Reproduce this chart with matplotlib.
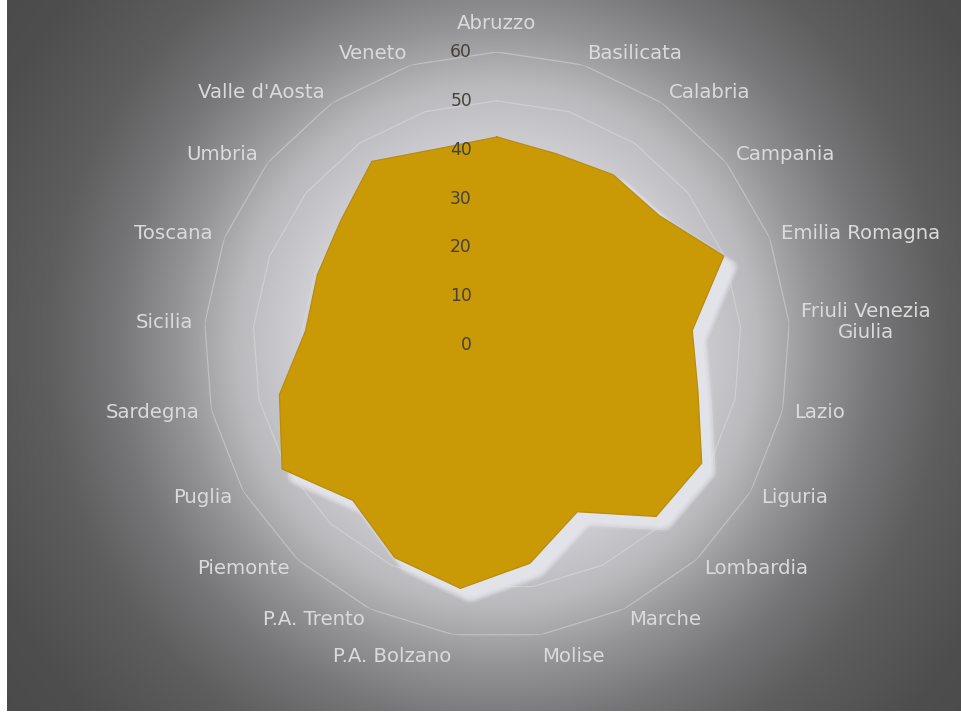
import numpy as np
import matplotlib
matplotlib.use("Agg")
import matplotlib.pyplot as plt
from matplotlib import transforms

regions = ["Abruzzo", "Basilicata", "Calabria", "Campania", "Emilia Romagna",
           "Friuli Venezia\nGiulia", "Lazio", "Liguria", "Lombardia", "Marche",
           "Molise", "P.A. Bolzano", "P.A. Trento", "Piemonte", "Puglia",
           "Sardegna", "Sicilia", "Toscana", "Umbria", "Valle d'Aosta", "Veneto"]
values = [42.6, 41.0, 42.2, 42.5, 49.9, 40.1, 42.2, 48.4, 47.9, 37.9, 45.2,
          50.4, 48.3, 43.4, 50.8, 45.7, 39.3, 39.5, 40.9, 45.5, 42.0]
ring_ticks = [0, 10, 20, 30, 40, 50, 60]

W, H, DPI = 962, 713, 100
fig = plt.figure(figsize=(W / DPI, H / DPI), dpi=DPI)
fig.patch.set_facecolor("white")

# --- radial glow behind the chart -------------------------------------
cx, cy = 497, 345          # chart centre in pixels (from top-left)
bx0, bx1, by0, by1 = 7, 962, 0, 711
xs = np.arange(bx0, bx1) + 0.5
ys = np.arange(by0, by1) + 0.5
X, Y = np.meshgrid(xs, ys)
D = np.hypot(X - cx, Y - cy)
g = np.interp(D, [0, 180, 260, 320, 380, 450, 550, 720],
              [226, 212, 186, 148, 118, 94, 78, 68])
blue = np.interp(D, [0, 300, 500], [7, 3, 0])
rgb = np.clip(np.stack([g, g, g + blue], axis=-1) / 255.0, 0, 1)
bg = fig.add_axes([bx0 / W, 1 - by1 / H, (bx1 - bx0) / W, (by1 - by0) / H])
bg.imshow(rgb, aspect="auto", interpolation="bilinear")
bg.axis("off")

# --- radar axes ---------------------------------------------------------
R60 = 293  # pixel radius of the outer ring
ax = fig.add_axes([(cx - R60) / W, 1 - (cy + R60) / H, 2 * R60 / W, 2 * R60 / H],
                  projection="polar")
ax.set_theta_zero_location("N")
ax.set_theta_direction(-1)
ax.set_ylim(0, ring_ticks[-1])
ax.patch.set_alpha(0)
ax.grid(False)
ax.spines["polar"].set_visible(False)
ax.set_xticks([])
ax.set_yticks([])

n = len(regions)
theta = np.arange(n) * 2 * np.pi / n
th_closed = np.append(theta, theta[0])
vals_closed = np.append(values, values[0])

# polygonal gridlines
for t in ring_ticks[1:]:
    ax.plot(th_closed, np.full(n + 1, t), color="#e4e4e4", lw=0.9,
            alpha=0.42, zorder=1)

# soft drop shadow (stack of slightly shifted translucent copies)
for ox in range(-6, 7, 2):
    for oy in range(-6, 7, 2):
        if ox * ox + oy * oy > 36:
            continue
        tr = transforms.offset_copy(ax.transData, fig=fig, x=10 + ox,
                                    y=-(10 + oy), units="dots")
        ax.fill(th_closed, vals_closed, color=(0.92, 0.92, 0.95), alpha=0.11,
                lw=0, transform=tr, zorder=2)

# data area
ax.fill(th_closed, vals_closed, color="#C99A06", lw=0, zorder=3)
ax.plot(th_closed, vals_closed, color="#B88C12", lw=0.9, zorder=3.5)

# radial tick labels
for t in ring_ticks:
    ax.annotate(str(t), xy=(0, t), xytext=(-18, 0), textcoords="offset points",
                ha="right", va="center", fontsize=12.3, color="#45413a",
                zorder=6, annotation_clip=False)

# category labels
for ang, name in zip(theta, regions):
    s, c = np.sin(ang), np.cos(ang)
    r = 62.5
    if abs(s) < 0.05:
        ha, va, r = "center", "bottom", 63.8
    else:
        ha = "left" if s > 0 else "right"
        va = "top" if c < -0.95 else "center"
    ax.text(ang, r, name, ha=ha, va=va, multialignment="center",
            fontsize=14.2, color="#dadada", zorder=6, linespacing=1.15)

fig.savefig("out.png", dpi=DPI, facecolor=fig.get_facecolor())
